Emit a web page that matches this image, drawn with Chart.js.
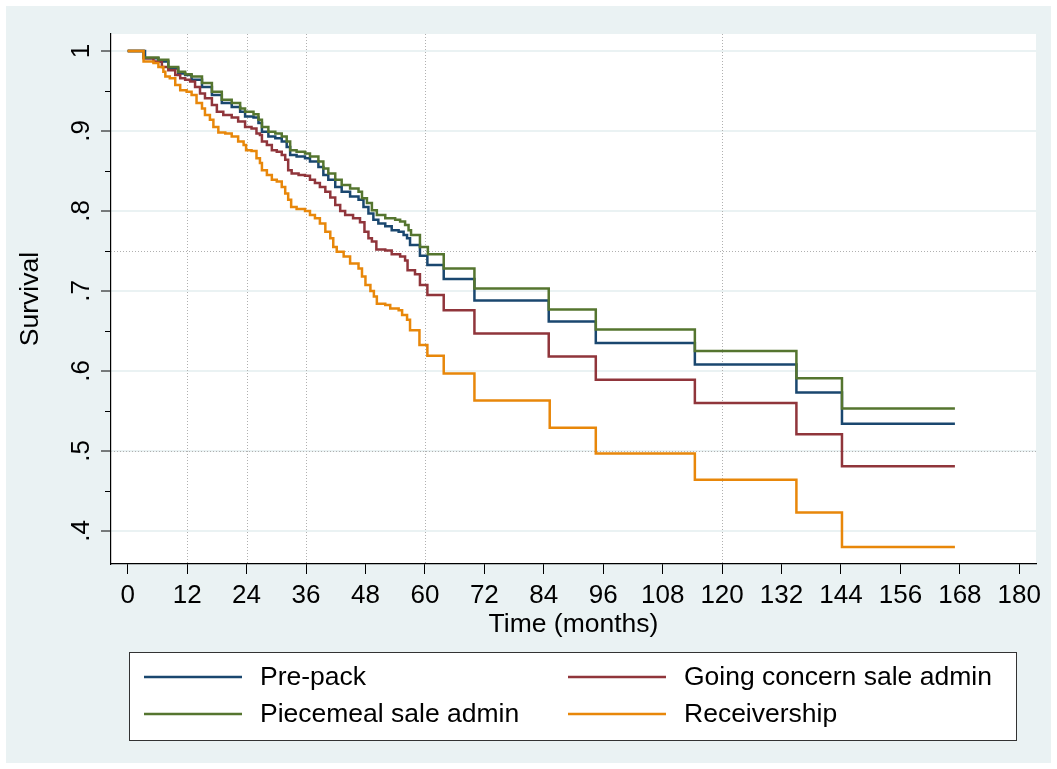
<!DOCTYPE html>
<html>
<head>
<meta charset="utf-8">
<title>Survival by exit route</title>
<script src="https://cdn.jsdelivr.net/npm/chart.js@4.4.0/dist/chart.umd.min.js"></script>
<style>
  html, body { margin: 0; padding: 0; background: #fff; }
  #wrap { width: 1057px; height: 769px; }
</style>
</head>
<body>
<div id="wrap"><canvas id="km" width="1057" height="769"></canvas></div>
<script>
// Kaplan-Meier survival, [months, survival] at each step
const prePack = [[0,1],[3.5,.991],[6.2,.987],[8.2,.978],[10.2,.972],[11.6,.97],[12.9,.964],[15,.955],[17,.945],[19,.935],[21,.93],[22.7,.924],[23.7,.918],[25.4,.917],[26.4,.91],[27.1,.899],[28.4,.893],[29.8,.891],[31.1,.887],[32.1,.88],[32.8,.87],[34.1,.868],[35.8,.866],[36.8,.862],[38.5,.855],[39.5,.845],[40.5,.839],[41.9,.83],[43.2,.824],[44.9,.818],[46.6,.814],[47.6,.805],[48.6,.797],[49.6,.789],[50.6,.7845],[52,.781],[53.3,.776],[54.7,.774],[55.7,.77],[56.4,.766],[57,.7575],[59,.744],[60.5,.7325],[63.8,.715],[70,.688],[85,.662],[94.5,.635],[114.5,.608],[135,.573],[144.2,.534],[167,.534]];
const goingConcern = [[0,1],[3.2,.991],[5.2,.987],[6.9,.98],[8.2,.976],[9.6,.97],[10.6,.966],[11.6,.964],[12.6,.962],[13.6,.955],[14.6,.947],[15.6,.941],[17,.9325],[18,.924],[19.3,.92],[21,.917],[22.3,.912],[23.7,.905],[25,.903],[26,.897],[26.7,.895],[27.1,.887],[28.1,.8825],[29.1,.876],[30.1,.874],[31.1,.87],[31.8,.864],[32.4,.851],[33.1,.847],[34.5,.845],[35.8,.844],[36.8,.839],[37.8,.835],[38.8,.83],[39.9,.824],[40.9,.817],[41.9,.8075],[42.9,.80],[43.9,.795],[45.5,.791],[46.9,.786],[47.8,.774],[48.6,.766],[49.3,.762],[50.2,.752],[52,.7505],[53.3,.746],[55,.743],[56,.738],[56.5,.726],[58,.721],[59,.7075],[60.5,.695],[63.8,.676],[70,.647],[85,.618],[94.5,.589],[114.5,.56],[135,.521],[144.2,.481],[167,.481]];
const piecemeal = [[0,1],[3.2,.992],[6.2,.989],[8.2,.98],[10.2,.974],[11.6,.971],[12.9,.968],[15,.96],[17,.949],[19,.939],[21,.935],[22.7,.928],[23.7,.924],[25.4,.921],[26.4,.914],[27.1,.905],[28.4,.899],[29.8,.897],[31.1,.893],[32.1,.887],[32.8,.876],[34.1,.874],[35.8,.872],[36.8,.868],[38.5,.862],[39.5,.853],[40.5,.847],[41.9,.839],[43.2,.8325],[44.9,.828],[46.6,.824],[47.3,.816],[48.3,.81],[49.3,.801],[50.3,.795],[52,.791],[54,.789],[55,.787],[56,.7825],[56.7,.776],[57.2,.77],[59,.755],[60.6,.746],[63.8,.728],[70,.703],[85,.677],[94.5,.652],[114.5,.625],[135,.591],[144.2,.553],[167,.553]];
const receivership = [[0,1],[3.2,.987],[5.2,.985],[6.2,.98],[7.2,.974],[7.6,.968],[8.5,.966],[9.6,.9575],[10.6,.951],[11.9,.949],[12.9,.945],[13.9,.935],[15,.928],[15.6,.92],[16.6,.914],[17.3,.905],[18.3,.898],[19.7,.897],[21,.893],[22.3,.887],[23.4,.8825],[23.9,.876],[25,.875],[26,.866],[26.7,.86],[27.1,.851],[28.1,.845],[29.1,.839],[30.1,.837],[31.1,.83],[31.8,.822],[32.4,.814],[33,.805],[34.1,.8025],[35.8,.80],[36.8,.795],[37.8,.791],[38.8,.7845],[39.9,.774],[40.9,.766],[41.5,.755],[42.2,.749],[43.6,.743],[44.9,.7345],[46.6,.728],[47.3,.718],[48,.7075],[49,.70],[49.7,.693],[50.3,.684],[52,.6825],[53,.678],[54.7,.676],[55.4,.67],[56.4,.664],[57,.651],[58.9,.6325],[60.5,.619],[63.8,.597],[70,.563],[85.2,.529],[94.5,.497],[114.5,.464],[135,.423],[144.2,.38],[167,.38]];

const seriesNames = ['Pre-pack', 'Going concern sale admin', 'Piecemeal sale admin', 'Receivership'];
const seriesColors = ['#1a476f', '#90353b', '#55752f', '#e8870a'];

const monthTicks = [0, 12, 24, 36, 48, 60, 72, 84, 96, 108, 120, 132, 144, 156, 168, 180];
const survTicks = [0.4, 0.5, 0.6, 0.7, 0.8, 0.9, 1];
const minorSurvTicks = [0.45, 0.55, 0.65, 0.75, 0.85, 0.95];
const refMonths = [12, 24, 36, 60, 120];
const refSurv = [0.5, 0.75];

const FONT = '"Liberation Sans", Arial, Helvetica, sans-serif';
Chart.defaults.font.family = FONT;
Chart.defaults.color = '#000';

// stata-ish background: pale blue frame with a white plot region
const backdrop = {
  id: 'backdrop',
  beforeDraw(chart) {
    const { ctx, chartArea: a } = chart;
    ctx.save();
    ctx.fillStyle = '#fff';
    ctx.fillRect(0, 0, chart.width, chart.height);
    ctx.fillStyle = '#eaf2f3';
    ctx.fillRect(6, 6, chart.width - 12, chart.height - 12);
    ctx.fillStyle = '#fff';
    ctx.fillRect(a.left, a.top, a.right - a.left, a.bottom - a.top);
    ctx.restore();
  }
};

// dotted reference lines, under the curves
const refLines = {
  id: 'refLines',
  beforeDatasetsDraw(chart) {
    const { ctx, chartArea: a, scales: { x, y } } = chart;
    ctx.save();
    ctx.strokeStyle = '#b0b0b0';
    ctx.lineWidth = 1;
    ctx.setLineDash([1, 2]);
    refMonths.forEach(m => {
      const px = Math.round(x.getPixelForValue(m)) + 0.5;
      ctx.beginPath(); ctx.moveTo(px, a.top); ctx.lineTo(px, a.bottom); ctx.stroke();
    });
    refSurv.forEach(s => {
      const py = Math.round(y.getPixelForValue(s)) + 0.5;
      ctx.beginPath(); ctx.moveTo(a.left, py); ctx.lineTo(a.right, py); ctx.stroke();
    });
    ctx.restore();
  }
};

// rotated y labels, minor ticks and the boxed legend
const axisDecor = {
  id: 'axisDecor',
  afterDraw(chart) {
    const { ctx, chartArea: a, scales: { y } } = chart;
    ctx.save();
    ctx.fillStyle = '#000';
    ctx.font = '26px ' + FONT;
    ctx.textAlign = 'center';
    ctx.textBaseline = 'alphabetic';
    survTicks.forEach(v => {
      const label = v === 1 ? '1' : '.' + Math.round(v * 10);
      ctx.save();
      ctx.translate(88.5, y.getPixelForValue(v));
      ctx.rotate(-Math.PI / 2);
      ctx.fillText(label, 0, 0);
      ctx.restore();
    });
    ctx.strokeStyle = '#000';
    ctx.lineWidth = 1;
    minorSurvTicks.forEach(v => {
      const py = Math.round(y.getPixelForValue(v)) + 0.5;
      ctx.beginPath(); ctx.moveTo(a.left - 6, py); ctx.lineTo(a.left, py); ctx.stroke();
    });

    // legend box, two columns
    const bx = 129, by = 652, bw = 887, bh = 88;
    ctx.fillStyle = '#fff';
    ctx.fillRect(bx, by, bw, bh);
    ctx.strokeStyle = '#333';
    ctx.strokeRect(bx + 0.5, by + 0.5, bw, bh);
    const colX = [144, 568], rowY = [677, 714];
    ctx.font = '26.5px ' + FONT;
    ctx.textAlign = 'left';
    ctx.textBaseline = 'middle';
    chart.data.datasets.forEach((ds, i) => {
      const cx = colX[i % 2], cy = rowY[Math.floor(i / 2)];
      ctx.strokeStyle = ds.borderColor;
      ctx.lineWidth = 2.5;
      ctx.beginPath(); ctx.moveTo(cx, cy); ctx.lineTo(cx + 98, cy); ctx.stroke();
      ctx.fillStyle = '#000';
      ctx.fillText(ds.label, cx + 116, cy + 1);
    });
    ctx.restore();
  }
};

const curves = [prePack, goingConcern, piecemeal, receivership];

new Chart(document.getElementById('km'), {
  type: 'line',
  data: {
    datasets: curves.map((c, i) => ({
      label: seriesNames[i],
      data: c.map(p => ({ x: p[0], y: p[1] })),
      borderColor: seriesColors[i],
      borderWidth: 2.5,
      pointRadius: 0,
      stepped: true,
      fill: false,
      order: 4 - i
    }))
  },
  options: {
    responsive: false,
    animation: false,
    devicePixelRatio: 1,
    layout: { padding: { top: 34, right: 21, left: 0, bottom: 0 } },
    plugins: { legend: { display: false }, tooltip: { enabled: false } },
    scales: {
      x: {
        type: 'linear',
        min: -3.37,
        max: 183.37,
        afterBuildTicks: s => { s.ticks = monthTicks.map(v => ({ value: v })); },
        afterFit: s => { s.height = 205; },
        ticks: { font: { size: 26 }, padding: 6, autoSkip: false, maxRotation: 0, callback: v => String(v) },
        grid: { drawOnChartArea: false, tickLength: 10, tickColor: '#000', tickWidth: 1 },
        border: { color: '#000', width: 1.2 },
        title: { display: true, text: 'Time (months)', font: { size: 26.5 }, padding: { top: 128, bottom: 128 } }
      },
      y: {
        type: 'linear',
        min: 0.35875,
        max: 1.02125,
        afterBuildTicks: s => { s.ticks = survTicks.map(v => ({ value: v })); },
        afterFit: s => { s.width = 111; },
        ticks: { display: false },
        grid: { color: '#eaf2f3', lineWidth: 2, tickLength: 10, tickColor: '#000', tickWidth: 1 },
        border: { color: '#000', width: 1.2 },
        title: { display: true, text: 'Survival', font: { size: 26.5 }, padding: { top: 15, bottom: 15 } }
      }
    }
  },
  plugins: [backdrop, refLines, axisDecor]
});
</script>
</body>
</html>
